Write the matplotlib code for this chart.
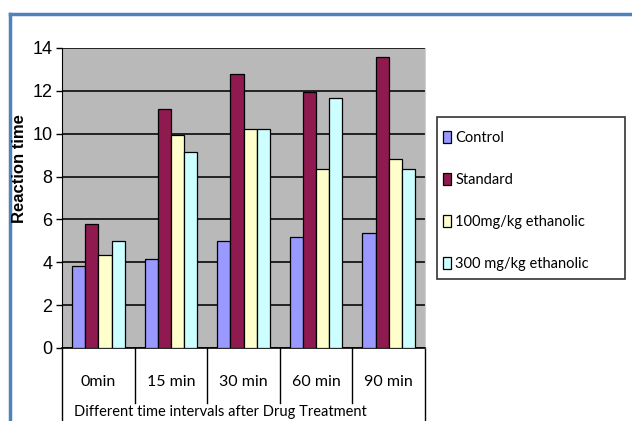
import matplotlib
matplotlib.use("Agg")
import matplotlib.pyplot as plt
from matplotlib.lines import Line2D
from matplotlib.patches import Rectangle
import numpy as np

# data
categories = ["0min", "15 min", "30 min", "60 min", "90 min"]
series = ["Control", "Standard", "100mg/kg ethanolic", "300 mg/kg ethanolic"]
control = [3.85, 4.15, 5.0, 5.2, 5.35]
standard = [5.8, 11.15, 12.8, 11.95, 13.6]
eth100 = [4.35, 9.95, 10.2, 8.35, 8.8]
eth300 = [5.0, 9.15, 10.2, 11.65, 8.35]
colors = ["#9999FF", "#8E1A50", "#FFFFCC", "#CCFFFF"]

calib = ["Lato", "DejaVu Sans"]
arial = ["Liberation Sans", "DejaVu Sans"]

fig = plt.figure(figsize=(6.32, 4.21), dpi=100)
ax = fig.add_axes([62/632, 1 - 348/421, (425-62)/632, (348-48)/421])
ax.set_facecolor("#B9B9B9")

x = np.arange(len(categories)) + 0.5
w = 1 / 5.5
for i, vals in enumerate([control, standard, eth100, eth300]):
    ax.bar(x + (i - 1.5) * w, vals, w, color=colors[i], edgecolor="black",
           linewidth=0.9, label=series[i], zorder=3)

ax.set_xlim(0, 5)
ax.set_ylim(0, 14)
ax.set_yticks(range(0, 15, 2))
ax.set_yticklabels([str(v) for v in range(0, 15, 2)], family=arial, fontsize=13)
ax.yaxis.grid(True, color="#222222", linewidth=1.4, zorder=1)
ax.set_xticks([])
ax.tick_params(axis="y", direction="out", length=4, width=1, pad=3)
ax.spines["top"].set_visible(False)
ax.spines["right"].set_color("#D0D0D0")
ax.spines["left"].set_color("black")
ax.spines["bottom"].set_color("black")
ax.spines["bottom"].set_linewidth(1.2)

# category table under the axis
for b in range(1, 5):
    ax.plot([b, b], [0, -2.57], color="black", lw=1, clip_on=False)
for b in [0, 5]:
    ax.plot([b, b], [0, -3.5], color="black", lw=1, clip_on=False)
for xi, lab in zip(x, categories):
    ax.text(xi, -1.6, lab, ha="center", va="center", family=calib, fontsize=11.5)

fig.text(220/632, 1 - 412/421, "Different time intervals after Drug Treatment",
         ha="center", va="center", family=calib, fontsize=10.5)
fig.text(20/632, 1 - 169/421, "Reaction time", rotation=90, ha="center",
         va="center", family=arial, fontweight="bold", fontsize=12)

# legend box drawn separately so its size matches
fig.add_artist(Rectangle((437/632, 1 - 279/421), 188/632, 162/421,
                         transform=fig.transFigure, facecolor="white",
                         edgecolor="#333333", linewidth=1.2))
leg = fig.legend(loc="upper left", bbox_to_anchor=(443/632, 1 - 131/421),
                 prop={"family": calib, "size": 10.5}, frameon=False,
                 handlelength=0.55, handleheight=0.9, handletextpad=0.3,
                 labelspacing=1.92, borderpad=0, borderaxespad=0)
leg.set_zorder(5)

# blue frame round the chart (top and left show in the crop)
fig.add_artist(Line2D([10/632, 10/632], [0, 1 - 14/421], color="#4F81BD", lw=2.5))
fig.add_artist(Line2D([10/632, 1], [1 - 14/421, 1 - 14/421], color="#4F81BD", lw=2.5))

fig.savefig("out.png", dpi=100)
